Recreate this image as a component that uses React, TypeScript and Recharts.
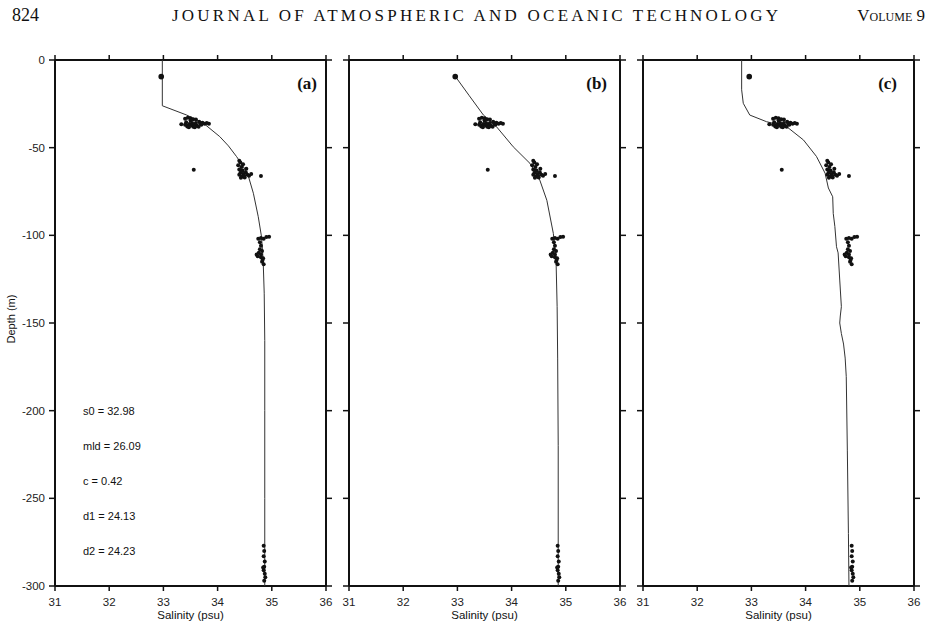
import React from 'react';
import { ScatterChart, Scatter, XAxis, YAxis } from 'recharts';

const salinityTicks = [31, 32, 33, 34, 35, 36];
const depthTicks = [0, -50, -100, -150, -200, -250, -300];
const panelLetters = ['(a)', '(b)', '(c)'];
const statsA = ['s0 = 32.98', 'mld = 26.09', 'c = 0.42', 'd1 = 24.13', 'd2 = 24.23'];

const surfaceObs = [{ s: 32.96, d: -9.5 }];

const observations = [
  // cluster near 35 m
  { s: 33.33, d: -36.7 }, { s: 33.40, d: -33.5 }, { s: 33.45, d: -33.0 }, { s: 33.50, d: -33.2 },
  { s: 33.55, d: -33.8 }, { s: 33.60, d: -34.0 }, { s: 33.42, d: -35.5 }, { s: 33.48, d: -36.5 },
  { s: 33.52, d: -37.2 }, { s: 33.58, d: -36.8 }, { s: 33.62, d: -37.5 }, { s: 33.68, d: -36.2 },
  { s: 33.72, d: -35.8 }, { s: 33.76, d: -36.4 }, { s: 33.80, d: -36.0 }, { s: 33.84, d: -36.3 },
  { s: 33.45, d: -37.4 }, { s: 33.55, d: -38.0 }, { s: 33.65, d: -38.0 }, { s: 33.70, d: -37.0 },
  { s: 33.50, d: -34.5 }, { s: 33.66, d: -35.2 }, { s: 33.44, d: -37.9 }, { s: 33.60, d: -36.0 },
  { s: 33.53, d: -36.0 }, { s: 33.47, d: -38.3 }, { s: 33.58, d: -38.4 }, { s: 33.40, d: -37.0 },
  // stray
  { s: 33.56, d: -62.6 },
  // cluster near 63 m
  { s: 34.40, d: -57.5 }, { s: 34.42, d: -58.5 }, { s: 34.38, d: -60.0 }, { s: 34.44, d: -61.0 },
  { s: 34.40, d: -62.5 }, { s: 34.46, d: -63.0 }, { s: 34.42, d: -64.5 }, { s: 34.48, d: -65.0 },
  { s: 34.52, d: -64.0 }, { s: 34.55, d: -65.5 }, { s: 34.45, d: -66.5 }, { s: 34.50, d: -67.0 },
  { s: 34.58, d: -66.0 }, { s: 34.62, d: -65.0 }, { s: 34.40, d: -65.5 }, { s: 34.47, d: -59.5 },
  { s: 34.53, d: -62.0 }, { s: 34.44, d: -63.5 }, { s: 34.49, d: -66.0 }, { s: 34.43, d: -67.2 },
  // stray
  { s: 34.80, d: -66.2 },
  // cluster near 108 m
  { s: 34.75, d: -102.0 }, { s: 34.80, d: -101.5 }, { s: 34.85, d: -102.0 }, { s: 34.90, d: -101.0 },
  { s: 34.95, d: -100.8 }, { s: 34.78, d: -104.0 }, { s: 34.80, d: -106.0 }, { s: 34.78, d: -108.0 },
  { s: 34.82, d: -109.0 }, { s: 34.76, d: -110.0 }, { s: 34.72, d: -111.0 }, { s: 34.74, d: -112.0 },
  { s: 34.80, d: -112.5 }, { s: 34.84, d: -113.0 }, { s: 34.82, d: -115.0 }, { s: 34.85, d: -116.5 },
  { s: 34.80, d: -111.0 }, { s: 34.83, d: -114.0 },
  // cluster near 290 m
  { s: 34.85, d: -277.0 }, { s: 34.86, d: -280.0 }, { s: 34.85, d: -283.0 }, { s: 34.87, d: -286.0 },
  { s: 34.86, d: -289.0 }, { s: 34.85, d: -291.0 }, { s: 34.87, d: -293.0 }, { s: 34.88, d: -295.0 },
  { s: 34.86, d: -297.0 }, { s: 34.84, d: -289.5 },
];

const fitA = [
  { s: 32.98, d: 0 }, { s: 32.98, d: -26.1 }, { s: 33.43, d: -31.4 }, { s: 33.74, d: -36.1 },
  { s: 34.04, d: -43.7 }, { s: 34.20, d: -49.0 }, { s: 34.35, d: -55.1 }, { s: 34.47, d: -60.5 },
  { s: 34.57, d: -66.5 }, { s: 34.66, d: -76.0 }, { s: 34.75, d: -89.4 }, { s: 34.81, d: -100.8 },
  { s: 34.84, d: -114.0 }, { s: 34.86, d: -133.0 }, { s: 34.87, d: -160.0 }, { s: 34.87, d: -200.0 },
  { s: 34.87, d: -250.0 }, { s: 34.87, d: -300.0 },
];

const fitB = [
  { s: 32.96, d: -9.3 }, { s: 33.22, d: -20.4 }, { s: 33.48, d: -31.4 }, { s: 33.72, d: -38.0 },
  { s: 34.03, d: -49.5 }, { s: 34.34, d: -59.0 }, { s: 34.52, d: -68.5 }, { s: 34.65, d: -80.0 },
  { s: 34.77, d: -98.9 }, { s: 34.82, d: -114.0 }, { s: 34.84, d: -140.7 }, { s: 34.85, d: -170.0 },
  { s: 34.86, d: -220.0 }, { s: 34.86, d: -300.0 },
];

const fitC = [
  { s: 32.82, d: 0 }, { s: 32.82, d: -17.0 }, { s: 32.85, d: -24.7 }, { s: 32.97, d: -31.4 },
  { s: 33.28, d: -35.2 }, { s: 33.65, d: -38.0 }, { s: 33.96, d: -45.6 }, { s: 34.20, d: -55.0 },
  { s: 34.36, d: -64.6 }, { s: 34.42, d: -73.0 }, { s: 34.50, d: -78.0 }, { s: 34.51, d: -87.5 },
  { s: 34.54, d: -95.0 }, { s: 34.57, d: -106.5 }, { s: 34.60, d: -110.0 }, { s: 34.63, d: -125.5 },
  { s: 34.66, d: -140.7 }, { s: 34.64, d: -146.0 }, { s: 34.63, d: -150.0 }, { s: 34.66, d: -156.0 },
  { s: 34.70, d: -162.0 }, { s: 34.73, d: -170.0 }, { s: 34.75, d: -180.6 }, { s: 34.77, d: -222.5 },
  { s: 34.79, d: -270.0 }, { s: 34.80, d: -300.0 },
];

const fits = [fitA, fitB, fitC];

const INK = '#111';
const SANS = '"Liberation Sans", Arial, sans-serif';
const SERIF = '"Liberation Serif", "Times New Roman", serif';

const noShape = () => <g />;
const obsShape = (p: any) => <circle cx={p.cx} cy={p.cy} r={2} fill={INK} />;
const surfShape = (p: any) => <circle cx={p.cx} cy={p.cy} r={2.8} fill={INK} />;
const blank = () => '';

const axisLine = { stroke: INK, strokeWidth: 2 };
const tickLine = { stroke: INK, strokeWidth: 1.5 };
const tickStyle = { fontFamily: SANS, fontSize: 11.5, fill: '#222' };

type PanelProps = { idx: number; left: number; width: number; ml: number; mr: number; yw: number; labels: boolean };

function Panel({ idx, left, width, ml, mr, yw, labels }: PanelProps) {
  return (
    <div style={{ position: 'absolute', left, top: 0 }}>
      <ScatterChart width={width} height={630} margin={{ top: 54, right: mr, bottom: 14, left: ml }}>
        <XAxis xAxisId="b" type="number" dataKey="s" domain={[31, 36]} ticks={salinityTicks}
          orientation="bottom" height={30} axisLine={axisLine} tickLine={tickLine} tickSize={5}
          tickMargin={7} tick={tickStyle} allowDataOverflow interval={0} />
        <XAxis xAxisId="t" type="number" dataKey="s" domain={[31, 36]} ticks={salinityTicks}
          orientation="top" height={6} axisLine={axisLine} tickLine={tickLine} tickSize={5}
          tickFormatter={blank} allowDataOverflow interval={0} />
        <YAxis yAxisId="l" type="number" dataKey="d" domain={[-300, 0]} ticks={depthTicks}
          orientation="left" width={yw} axisLine={axisLine} tickLine={tickLine} tickSize={6}
          tickMargin={4} tick={tickStyle} tickFormatter={labels ? undefined : blank}
          allowDataOverflow interval={0} />
        <YAxis yAxisId="r" type="number" dataKey="d" domain={[-300, 0]} ticks={depthTicks}
          orientation="right" width={6} axisLine={axisLine} tickLine={tickLine} tickSize={6}
          tickFormatter={blank} allowDataOverflow interval={0} />
        <Scatter xAxisId="b" yAxisId="l" data={fits[idx]} line={{ stroke: '#333', strokeWidth: 1 }}
          shape={noShape} isAnimationActive={false} />
        <Scatter xAxisId="b" yAxisId="l" data={observations} shape={obsShape} isAnimationActive={false} />
        <Scatter xAxisId="b" yAxisId="l" data={surfaceObs} shape={surfShape} isAnimationActive={false} />
      </ScatterChart>
    </div>
  );
}

const letterX = [317, 607, 897];
const labelCenters = [190.5, 484.5, 778.5];

export default function App() {
  return (
    <div style={{ position: 'absolute', left: 0, top: 0, width: 931, height: 630, background: '#fff', overflow: 'hidden' }}>
      <Panel idx={0} left={0} width={340} ml={10} mr={8} yw={45} labels={true} />
      <Panel idx={1} left={335} width={300} ml={8} mr={9} yw={6} labels={false} />
      <Panel idx={2} left={629} width={300} ml={8} mr={9} yw={6} labels={false} />
      <svg width={931} height={630} style={{ position: 'absolute', left: 0, top: 0, pointerEvents: 'none' }}>
        <text x={12} y={21} fontFamily={SERIF} fontSize={18} fill={INK}>824</text>
        <text x={172} y={21} fontFamily={SERIF} fontSize={17} fill={INK} textLength={606}
          lengthAdjust="spacing">JOURNAL OF ATMOSPHERIC AND OCEANIC TECHNOLOGY</text>
        <text x={925} y={21} fontFamily={SERIF} fontSize={17} fill={INK} textAnchor="end"
          style={{ fontVariant: 'small-caps' }}>Volume 9</text>
        {panelLetters.map((t, i) => (
          <text key={t} x={letterX[i]} y={89} fontFamily={SERIF} fontWeight="bold" fontSize={17}
            fill={INK} textAnchor="end">{t}</text>
        ))}
        {statsA.map((t, i) => (
          <text key={t} x={83} y={415 + i * 35} fontFamily={SANS} fontSize={11} fill={INK}>{t}</text>
        ))}
        {labelCenters.map((cx, i) => (
          <text key={i} x={cx} y={619} fontFamily={SANS} fontSize={11.5} fill={INK} textAnchor="middle">Salinity (psu)</text>
        ))}
        <text transform="translate(15,319) rotate(-90)" fontFamily={SANS} fontSize={11} fill={INK}
          textAnchor="middle">Depth (m)</text>
      </svg>
    </div>
  );
}
